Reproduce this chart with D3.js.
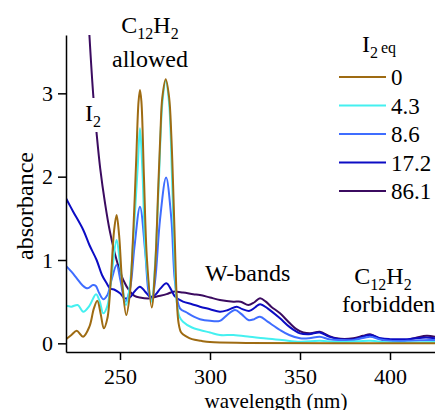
<!DOCTYPE html>
<html lang="en">
<head>
    <meta charset="UTF-8">
    <title>Absorbance spectra</title>
    <script src="https://d3js.org/d3.v7.min.js"></script>
    <style>
        body { margin: 0; background: #fff; }
        .axis path, .axis line { stroke: #000; stroke-width: 1.5px; }
        .spectrum { fill: none; stroke-width: 2px; stroke-linejoin: round; }
    </style>
</head>
<body>
    <svg width="435" height="410"></svg>
    <script>
        // spectra: [wavelength nm, absorbance]
        const eq0 = [[220,0.05],[223,0.10],[226,0.15],[229.5,0.08],[233,0.2],[235.5,0.42],[237.4,0.51],[239.3,0.35],[241,0.18],[243,0.3],[245,0.8],[246.7,1.35],[248.1,1.54],[249.5,1.3],[251.3,0.7],[253.5,0.34],[255.5,0.6],[257.3,1.3],[259,2.2],[260.3,2.9],[261.1,3.04],[261.9,2.9],[263.3,2.0],[265,1.0],[267.6,0.43],[269.5,0.9],[271.3,1.9],[272.5,2.55],[273.5,2.95],[275.4,3.17],[277.3,2.95],[278.5,2.5],[279.5,1.9],[280.5,1.2],[281.5,0.55],[282.5,0.25],[284,0.13],[287,0.08],[290,0.05],[295,0.03],[300,0.015],[320,0.005],[425,0.0]];
        const eq43 = [[220,0.45],[223,0.44],[226.5,0.46],[229.6,0.38],[233,0.45],[236.7,0.59],[238.8,0.5],[240.7,0.36],[243,0.45],[245.5,0.85],[248.1,1.24],[250.3,0.9],[253.3,0.46],[255.5,0.7],[257.5,1.3],[259.8,2.1],[261.1,2.58],[262.4,2.1],[264.5,1.0],[267.6,0.5],[269.5,0.95],[271.5,1.9],[273.6,2.9],[275.4,3.15],[277.2,2.9],[278.9,2.0],[280.3,1.0],[281.5,0.5],[283,0.32],[285,0.26],[290,0.19],[294.4,0.16],[300,0.13],[305.5,0.1],[313,0.1],[322,0.08],[330,0.06],[340,0.04],[350,0.02],[361,0.03],[372,0.015],[389,0.03],[400,0.01],[425,0.015]];
        const eq86 = [[220,0.93],[223,0.86],[226,0.78],[229,0.7],[232,0.66],[235,0.70],[236.5,0.69],[238.5,0.6],[240.7,0.53],[243,0.58],[245.5,0.78],[248.1,0.94],[250.3,0.75],[252.8,0.5],[255.5,0.65],[258,1.15],[261.1,1.64],[264,1.1],[266,0.6],[267.6,0.52],[269.5,0.75],[272.3,1.5],[275.6,1.99],[278.5,1.5],[280.5,0.75],[283.3,0.42],[287,0.37],[291,0.32],[294.4,0.29],[300,0.27],[305.5,0.27],[309,0.33],[313.9,0.40],[317.5,0.35],[321.3,0.28],[324.5,0.29],[327.8,0.32],[332,0.26],[338.9,0.16],[344,0.1],[350,0.06],[355,0.06],[361,0.08],[366,0.05],[372,0.04],[380,0.04],[389,0.08],[394,0.05],[400,0.03],[410,0.03],[422,0.04],[425,0.04]];
        const eq172 = [[220,1.74],[224,1.58],[229.6,1.36],[233,1.18],[237,1.0],[240,0.82],[242.6,0.72],[244.4,0.66],[247.2,0.64],[250,0.6],[252.8,0.54],[255.5,0.55],[258,0.62],[261.1,0.68],[264,0.62],[266.7,0.56],[269.5,0.58],[272.5,0.66],[275.8,0.72],[278.5,0.64],[280.6,0.56],[285,0.5],[290,0.47],[294.4,0.44],[300,0.41],[305.5,0.38],[310,0.40],[314.8,0.44],[318,0.41],[322,0.39],[325,0.43],[327.8,0.47],[332,0.42],[338.9,0.30],[344,0.2],[350,0.12],[355,0.11],[361,0.13],[366,0.08],[372,0.05],[380,0.05],[389,0.10],[395,0.06],[400,0.05],[410,0.05],[420,0.07],[425,0.06]];
        const eq861 = [[231.5,4.3],[233,3.70],[235.2,2.96],[237,2.52],[239,2.1],[241.7,1.68],[244.4,1.34],[248.1,1.0],[251.8,0.76],[255.6,0.62],[258,0.57],[261,0.55],[266.7,0.54],[270,0.56],[275.9,0.59],[279.6,0.62],[285,0.61],[290.7,0.59],[294.4,0.58],[300,0.55],[305.5,0.52],[313,0.50],[317,0.50],[321.3,0.46],[324.5,0.49],[327.8,0.54],[331,0.50],[334,0.44],[338.9,0.36],[344.4,0.24],[348,0.17],[351.8,0.13],[356,0.12],[361,0.14],[366,0.09],[370.4,0.06],[379.6,0.06],[385,0.09],[388.9,0.11],[392,0.08],[396.3,0.04],[402,0.04],[409,0.04],[415,0.07],[420.4,0.09],[425,0.08]];

        const seriesLabels = ["0", "4.3", "8.6", "17.2", "86.1"];
        const seriesColors = ["#9e6b12", "#44f0f0", "#3f6dff", "#0c0cc4", "#3b0b60"];
        const seriesData = [eq0, eq43, eq86, eq172, eq861];
        const xTicks = [250, 300, 350, 400];
        const yTicks = [0, 1, 2, 3];

        const serif = "'Liberation Serif', 'DejaVu Serif', serif";

        const svg = d3.select("svg").style("font-family", serif);

        // plot box
        const plotLeft = 66, plotRight = 435, plotTop = 35, plotBottom = 352;

        const x = d3.scaleLinear().domain([220, 425]).range([plotLeft, plotRight]);
        const y = d3.scaleLinear().domain([-0.104, 3.70]).range([plotBottom, plotTop]);

        svg.append("defs").append("clipPath")
            .attr("id", "plotClip")
            .append("rect")
            .attr("x", plotLeft).attr("y", plotTop)
            .attr("width", plotRight - plotLeft).attr("height", plotBottom - plotTop);

        const line = d3.line()
            .x(d => x(d[0]))
            .y(d => y(d[1]))
            .curve(d3.curveCatmullRom.alpha(0.5));

        // draw highest concentration first so brown ends on top
        const order = [4, 3, 2, 1, 0];
        svg.append("g")
            .attr("clip-path", "url(#plotClip)")
            .selectAll("path")
            .data(order)
            .enter().append("path")
            .attr("class", "spectrum")
            .attr("stroke", i => seriesColors[i])
            .attr("d", i => line(seriesData[i]));

        // axes
        const xAxis = svg.append("g")
            .attr("class", "axis")
            .attr("transform", `translate(0,${plotBottom})`)
            .call(d3.axisBottom(x).tickValues(xTicks).tickFormat(d3.format("d"))
                .tickSize(8).tickSizeOuter(0).tickPadding(5));

        const yAxis = svg.append("g")
            .attr("class", "axis")
            .attr("transform", `translate(${plotLeft},0)`)
            .call(d3.axisLeft(y).tickValues(yTicks).tickFormat(d3.format("d"))
                .tickSize(8).tickSizeOuter(0).tickPadding(5));

        svg.selectAll(".axis").attr("font-family", null).attr("font-size", null);
        svg.selectAll(".axis text")
            .style("font-family", serif)
            .style("font-size", "22px")
            .attr("fill", "#000");
        xAxis.selectAll("text").attr("dy", "0.85em");

        // axis titles
        svg.append("text")
            .attr("transform", "translate(33,206) rotate(-90)")
            .attr("text-anchor", "middle")
            .style("font-size", "24px")
            .text("absorbance");

        svg.append("text")
            .attr("x", 276).attr("y", 408)
            .attr("text-anchor", "middle")
            .style("font-size", "21px")
            .text("wavelength (nm)");

        // C12H2 style label: main text with subscript pieces
        function chem(g, parts, xPos, yPos, anchor) {
            const t = g.append("text")
                .attr("x", xPos).attr("y", yPos)
                .attr("text-anchor", anchor)
                .style("font-size", "24px");
            parts.forEach(p => {
                t.append("tspan")
                    .attr("dy", p.sub ? 6 : (p.back ? -6 : 0))
                    .style("font-size", p.sub ? "16px" : "24px")
                    .text(p.t);
            });
            return t;
        }

        chem(svg, [{ t: "C" }, { t: "12", sub: true }, { t: "H", back: true }, { t: "2", sub: true }], 150, 33, "middle");
        svg.append("text").attr("x", 150).attr("y", 67).attr("text-anchor", "middle")
            .style("font-size", "24px").text("allowed");

        // I2 label sits over the purple curve
        svg.append("rect").attr("x", 84).attr("y", 98).attr("width", 18).attr("height", 34).attr("fill", "#fff");
        chem(svg, [{ t: "I" }, { t: "2", sub: true }], 85, 121, "start");

        svg.append("text").attr("x", 205).attr("y", 281)
            .style("font-size", "24px").text("W-bands");

        chem(svg, [{ t: "C" }, { t: "12", sub: true }, { t: "H", back: true }, { t: "2", sub: true }], 383, 284, "middle");
        svg.append("text").attr("x", 342).attr("y", 312)
            .style("font-size", "24px").text("forbidden");

        // legend
        const legendTitle = svg.append("text")
            .attr("x", 362).attr("y", 52)
            .style("font-size", "24px");
        legendTitle.append("tspan").text("I");
        legendTitle.append("tspan").attr("dy", 6).style("font-size", "16px").text("2");
        legendTitle.append("tspan").attr("dx", 3).attr("dy", -5).style("font-size", "16px").text("eq");

        const legendY = d3.scalePoint().domain(seriesLabels).range([77, 191]);

        const legend = svg.append("g")
            .selectAll("g")
            .data(seriesLabels)
            .enter().append("g")
            .attr("transform", d => `translate(0,${legendY(d)})`);

        legend.append("line")
            .attr("x1", 339).attr("x2", 386)
            .attr("stroke", (d, i) => seriesColors[i])
            .attr("stroke-width", 2);

        legend.append("text")
            .attr("x", 391).attr("y", 8)
            .style("font-size", "23px")
            .text(d => d);
    </script>
</body>
</html>
